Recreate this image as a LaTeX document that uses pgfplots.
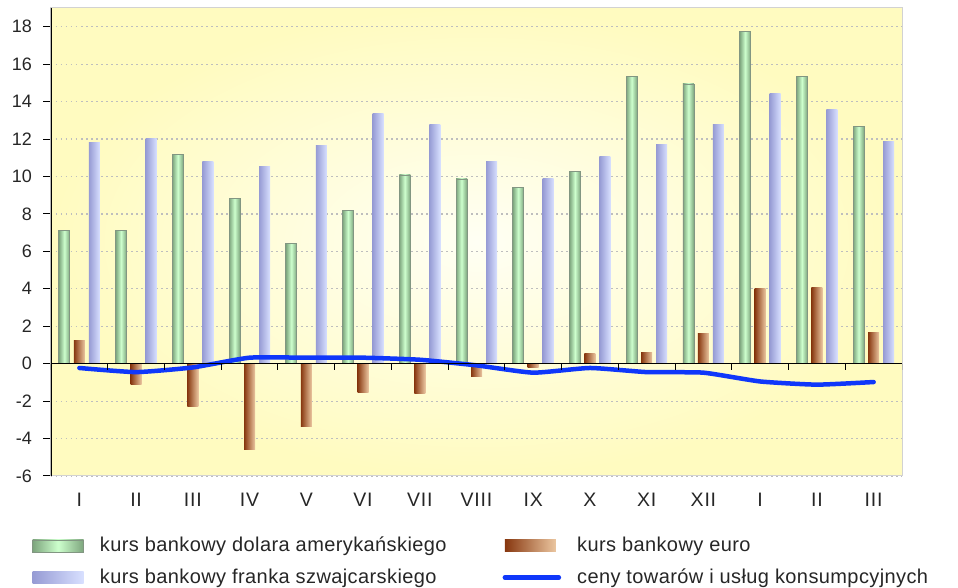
\documentclass[border=0pt]{standalone}
\usepackage{fontspec}
\setmainfont{Liberation Sans}
\usepackage{pgfplots}
\usepackage{pgfplotstable}
\pgfplotsset{compat=1.18}
\definecolor{bgedge}{RGB}{255,251,192}
\definecolor{bgcenter}{RGB}{255,255,244}
\definecolor{grnlight}{RGB}{205,255,205}
\definecolor{grndark}{RGB}{125,165,125}
\definecolor{grnedge}{RGB}{130,150,130}
\definecolor{eurdark}{RGB}{135,55,15}
\definecolor{eurlight}{RGB}{235,198,160}
\definecolor{frdark}{RGB}{150,155,212}
\definecolor{frlight}{RGB}{216,224,255}
\definecolor{cpiblue}{RGB}{15,55,250}
\definecolor{gridgray}{RGB}{190,190,190}
\pgfplotsset{
  barleg/.style={legend image code/.code={\path[##1] (0pt,-6pt) rectangle (51pt,6pt);}},
  lineleg/.style={legend image code/.code={\draw[##1] (0pt,0pt) -- (54pt,0pt);}},
  usdbar/.style={ybar, bar width=11pt, bar shift=-15pt, draw=grnedge, line width=0.8pt,
    left color=grndark, right color=grndark, middle color=grnlight},
  eurbar/.style={ybar, bar width=11pt, bar shift=0pt, draw=none,
    left color=eurdark, right color=eurlight},
  chfbar/.style={ybar, bar width=11pt, bar shift=15pt, draw=none,
    left color=frdark, right color=frlight},
  cpiline/.style={cpiblue, line width=4.5pt, smooth, tension=0.3, mark=none, line cap=round},
}
\pgfplotstableread{
x usd eur chf cpi
0 7.14 1.25 11.81 -0.23
1 7.12 -1.10 12.03 -0.45
2 11.19 -2.28 10.80 -0.20
3 8.83 -4.60 10.53 0.32
4 6.42 -3.35 11.63 0.32
5 8.17 -1.52 13.38 0.32
6 10.08 -1.60 12.78 0.21
7 9.87 -0.71 10.78 -0.09
8 9.39 -0.23 9.90 -0.48
9 10.28 0.52 11.06 -0.23
10 15.36 0.60 11.69 -0.45
11 14.94 1.60 12.78 -0.48
12 17.76 4.01 14.42 -0.95
13 15.36 4.09 13.60 -1.12
14 12.69 1.68 11.88 -0.98
}\data
\begin{document}
\fontsize{18}{21}\selectfont
\begin{tikzpicture}
\path[use as bounding box] (-51pt,-112pt) rectangle (907pt,476pt);
\begin{axis}[
  scale only axis, width=851pt, height=468pt,
  at={(0pt,0pt)}, anchor=south west,
  xmin=-0.5, xmax=14.5, ymin=-6, ymax=19,
  ytick={-6,-4,...,18},
  xtick={0,...,14},
  xticklabels={I,II,III,IV,V,VI,VII,VIII,IX,X,XI,XII,I,II,III},
  /pgf/number format/assume math mode=true,
  axis line style={gray!35, line width=1pt},
  axis background/.style={inner color=bgcenter, outer color=bgedge},
  ymajorgrids, grid style={gridgray, line width=1.2pt, dash pattern=on 1.5pt off 3.5pt},
  ytick pos=left, tick align=outside,
  major tick length=8pt,
  ytick style={black, line width=1pt},
  xtick style={draw=none},
  yticklabel style={xshift=-5pt, text=black!85},
  xticklabel style={yshift=-3pt, text=black!85, font=\fontsize{19.5}{22}\selectfont\addfontfeature{LetterSpace=4}},
  legend columns=2,
  legend cell align=left,
  legend style={at={(axis description cs:0,0)}, anchor=north west,
    xshift=-19pt, yshift=-59pt, draw=none, fill=none, inner sep=0pt,
    row sep=10pt, text=black!85,
    font=\fontsize{20}{23}\selectfont\addfontfeature{LetterSpace=2},
    /tikz/every odd column/.append style={column sep=14pt},
    /tikz/every even column/.append style={column sep=54pt}},
]
\addlegendimage{usdbar, barleg}
\addlegendentry{kurs bankowy dolara amerykańskiego}
\addlegendimage{eurbar, barleg}
\addlegendentry{kurs bankowy euro}
\addlegendimage{chfbar, barleg}
\addlegendentry{kurs bankowy franka szwajcarskiego}
\addlegendimage{cpiline, lineleg}
\addlegendentry{ceny towarów i usług konsumpcyjnych}
\pgfplotsinvokeforeach{0,...,14}{
  \addplot[usdbar, forget plot, restrict x to domain=#1:#1] table[x=x, y=usd] {\data};
  \addplot[eurbar, forget plot, restrict x to domain=#1:#1] table[x=x, y=eur] {\data};
  \addplot[chfbar, forget plot, restrict x to domain=#1:#1] table[x=x, y=chf] {\data};
}
\addplot[cpiline, forget plot] table[x=x, y=cpi] {\data};
\draw[black, line width=1.2pt] (rel axis cs:0,0) -- (rel axis cs:0,1);
\draw[black, line width=1.2pt] (axis cs:-0.5,0) -- (axis cs:14.5,0);
\pgfplotsinvokeforeach{-0.5,0.5,1.5,2.5,3.5,4.5,5.5,6.5,7.5,8.5,9.5,10.5,11.5,12.5,13.5,14.5}{
  \draw[black, line width=1pt] (axis cs:#1,0) -- ++(0pt,-6pt);
}
\node[anchor=west, inner sep=0pt, text=black!85, font=\fontsize{19.5}{22}\selectfont\addfontfeature{LetterSpace=4}] at ([xshift=4pt,yshift=-20pt]rel axis cs:1,0) {m-ce};
\end{axis}
\end{tikzpicture}
\end{document}
